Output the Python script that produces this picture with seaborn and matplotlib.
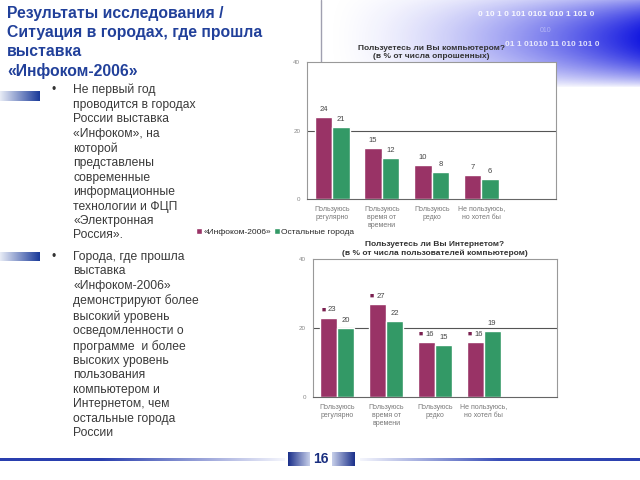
import numpy as np
import pandas as pd
import matplotlib
matplotlib.use("Agg")
import matplotlib.pyplot as plt
import seaborn as sns

# Data
groups = ["«Инфоком-2006»", "Остальные города"]
pc_cats = ["Пользуюсь\nрегулярно", "Пользуюсь\nвремя от\nвремени", "Пользуюсь\nредко", "Не пользуюсь,\nно хотел бы"]
pc_infokom = [24, 15, 10, 7]
pc_other = [21, 12, 8, 6]
net_cats = ["Пользуюсь\nрегулярно", "Пользуюсь\nвремя от\nвремени", "Пользуюсь\nредко", "Не пользуюсь,\nно хотел бы"]
net_infokom = [23, 27, 16, 16]
net_other = [20, 22, 15, 19]
y_ticks = [0, 20, 40]

title = "Результаты исследования /\nСитуация в городах, где прошла\nвыставка\n«Инфоком-2006»"
bullet1 = ("Не первый год\nпроводится в городах\nРоссии выставка\n«Инфоком», на\nкоторой\n"
           "представлены\nсовременные\nинформационные\nтехнологии и ФЦП\n«Электронная\nРоссия».")
bullet2 = ("Города, где прошла\nвыставка\n«Инфоком-2006»\nдемонстрируют более\nвысокий уровень\n"
           "осведомленности о\nпрограмме  и более\nвысоких уровень\nпользования\nкомпьютером и\n"
           "Интернетом, чем\nостальные города\nРоссии")
pc_title = "Пользуетесь ли Вы компьютером?\n(в % от числа опрошенных)"
net_title = "Пользуетесь ли Вы Интернетом?\n(в % от числа пользователей компьютером)"
page_no = "16"

sns.set_style("white")
plt.rcParams["font.family"] = ["Liberation Sans", "DejaVu Sans"]

palette = {groups[0]: "#993366", groups[1]: "#339966"}

def long_df(cats, a, b):
    return pd.DataFrame({
        "cat": cats + cats,
        "group": [groups[0]] * len(a) + [groups[1]] * len(b),
        "value": a + b,
    })

fig = plt.figure(figsize=(6.4, 4.8), dpi=100)

# background layer in pixel coordinates
bg = fig.add_axes([0, 0, 1, 1], zorder=-5)
bg.set_xlim(0, 640)
bg.set_ylim(480, 0)
bg.axis("off")

# blue gradient top right
gx = np.linspace(0, 1, 320)
gy = np.linspace(0, 1, 90)
GX, GY = np.meshgrid(gx, gy)
vert = np.clip(np.sin(np.pi * (GY * 0.88 + 0.12)), 0, 1) ** 0.8
alpha = np.clip(GX, 0, 1) ** 1.7 * vert
img = np.zeros((90, 320, 4))
img[..., 0] = 0.08
img[..., 1] = 0.1
img[..., 2] = 0.88
img[..., 3] = alpha
bg.imshow(img, extent=(320, 640, 88, 0), aspect="auto", interpolation="bilinear")
bg.text(478, 15, "0 10 1 0 101 0101 010 1 101 0", color="white", fontsize=6, weight="bold", va="center", alpha=0.9)
bg.text(505, 45, "01 1 01010 11 010 101 0", color="white", fontsize=6, weight="bold", va="center", alpha=0.8)
bg.text(540, 31, "010", color="white", fontsize=5, va="center", alpha=0.4)
bg.plot([321, 321], [0, 62], color="#a0a0b0", lw=1)

# left decorative bars
def hbar(x0, x1, y0, y1, c0, c1):
    t = np.linspace(0, 1, 100)
    c0 = np.array(matplotlib.colors.to_rgb(c0))
    c1 = np.array(matplotlib.colors.to_rgb(c1))
    row = c0[None, :] * (1 - t[:, None]) + c1[None, :] * t[:, None]
    bg.imshow(row[None, :, :], extent=(x0, x1, y1, y0), aspect="auto", interpolation="bilinear")

hbar(0, 40, 91, 101, "#e8ecf6", "#1a3a9a")
hbar(0, 40, 252, 261, "#e8ecf6", "#1a3a9a")
# bottom line
hbar(0, 100, 458, 461, "#2a3fae", "#2a3fae")
hbar(100, 285, 458, 461, "#2a3fae", "#f4f5fc")
hbar(360, 500, 458, 461, "#f4f5fc", "#3a4fb8")
hbar(500, 640, 458, 461, "#3a4fb8", "#2a3fae")
# page number box
hbar(288, 310, 452, 466, "#1a2f8a", "#c8d0ea")
hbar(332, 355, 452, 466, "#c8d0ea", "#1a2f8a")
bg.text(321, 459, page_no, ha="center", va="center", fontsize=10, weight="bold", color="#1a2f80")

# left texts
bg.text(7, 6, title, va="top", ha="left", fontsize=11.3, weight="bold", color="#21409A", linespacing=1.32)
bg.text(52, 84, "•", va="top", fontsize=8.7, color="#333333")
bg.text(73, 84, bullet1, va="top", fontsize=8.7, color="#3a3a3a", linespacing=1.27)
bg.text(52, 251, "•", va="top", fontsize=8.7, color="#333333")
bg.text(73, 251, bullet2, va="top", fontsize=8.7, color="#3a3a3a", linespacing=1.27)

def style_chart(ax, cats):
    ax.set_xlim(-0.5, 4.5)
    ax.set_ylim(0, 40)
    ax.set_yticks(y_ticks)
    ax.set_yticklabels([str(v) for v in y_ticks])
    ax.set_xticks(range(len(cats)))
    ax.set_xticklabels(cats)
    ax.set_xticks(np.arange(0.5, 4.5, 1), minor=True)
    ax.tick_params(axis="x", which="major", length=0, labelsize=5, labelcolor="#777777", pad=5)
    ax.tick_params(axis="x", which="minor", length=3, color="#888888", direction="out")
    ax.tick_params(axis="y", length=3, color="#888888", direction="out", labelsize=4.5, labelcolor="#888888", pad=2)
    ax.set_xlabel("")
    ax.set_ylabel("")
    ax.axhline(20, color="#555555", lw=0.8, zorder=0)
    for s in ax.spines.values():
        s.set_color("#999999")
        s.set_linewidth(0.8)
    ax.spines["bottom"].set_color("#666666")

# computer usage chart
ax1 = fig.add_axes([0.480, 0.585, 0.389, 0.285])
sns.barplot(data=long_df(pc_cats, pc_infokom, pc_other), x="cat", y="value", hue="group",
            hue_order=groups, palette=palette, width=0.7, ax=ax1, saturation=1)
handles, labels = ax1.get_legend_handles_labels()
ax1.get_legend().remove()
style_chart(ax1, pc_cats)
for cont in ax1.containers:
    ax1.bar_label(cont, fmt="%d", padding=3, fontsize=5.5, color="#444444")
ax1.set_title(pc_title, fontsize=6, weight="bold", color="#333333", pad=3, x=0.5)

# internet usage chart
ax2 = fig.add_axes([0.489, 0.173, 0.381, 0.2875])
sns.barplot(data=long_df(net_cats, net_infokom, net_other), x="cat", y="value", hue="group",
            hue_order=groups, palette=palette, width=0.7, ax=ax2, saturation=1)
ax2.get_legend().remove()
style_chart(ax2, net_cats)
for bar, v in zip(ax2.containers[0], net_infokom):
    xc = bar.get_x() + bar.get_width() / 2
    ax2.annotate("■", (xc, bar.get_height()), xytext=(-4, 3), textcoords="offset points",
                 ha="center", va="bottom", fontsize=5, color="#7a2050")
    ax2.annotate(str(v), (xc, bar.get_height()), xytext=(2.5, 3), textcoords="offset points",
                 ha="center", va="bottom", fontsize=5.5, color="#444444")
ax2.bar_label(ax2.containers[1], fmt="%d", padding=3, fontsize=5.5, color="#444444")
ax2.set_title(net_title, fontsize=6, weight="bold", color="#333333", pad=3)

fig.legend(handles, labels, loc="center left", bbox_to_anchor=(192 / 640, 1 - 232 / 480),
           ncol=2, frameon=False, fontsize=6, handlelength=0.7, handleheight=0.7,
           handletextpad=0.2, columnspacing=0.3, borderpad=0)

fig.savefig("out.png", dpi=100)
